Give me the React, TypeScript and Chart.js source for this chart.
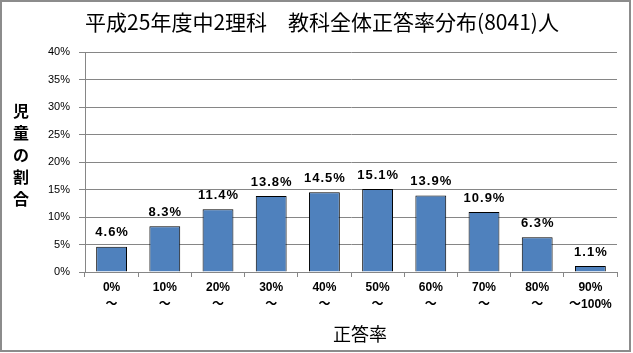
import React, { useEffect, useRef } from "react";
import { Chart, registerables } from "chart.js";

Chart.register(...registerables);

const TITLE = "平成25年度中2理科　教科全体正答率分布(8041)人";
const Y_TITLE_CHARS = ["児", "童", "の", "割", "合"];
const X_TITLE = "正答率";

const categories: string[][] = [
  ["0%", "～"],
  ["10%", "～"],
  ["20%", "～"],
  ["30%", "～"],
  ["40%", "～"],
  ["50%", "～"],
  ["60%", "～"],
  ["70%", "～"],
  ["80%", "～"],
  ["90%", "～100%"],
];
const values = [4.6, 8.3, 11.4, 13.8, 14.5, 15.1, 13.9, 10.9, 6.3, 1.1];
const yMin = 0;
const yMax = 40;
const yStep = 5;

const LATIN = '"Liberation Sans", "Noto Sans CJK JP", sans-serif';
const CJK = '"Noto Sans CJK JP", "Liberation Sans", sans-serif';

const decorPlugin = {
  id: "decor",
  afterDraw(chart: any) {
    const ctx = chart.ctx;
    ctx.save();
    // outer border
    ctx.strokeStyle = "#8c8c8c";
    ctx.lineWidth = 2;
    ctx.strokeRect(1, 1, 629, 350);
    // title
    ctx.fillStyle = "#000";
    ctx.textAlign = "center";
    ctx.textBaseline = "middle";
    ctx.font = `21px ${CJK}`;
    ctx.fillText(TITLE, 322, 22);
    // y title stacked
    ctx.font = `bold 16px ${CJK}`;
    Y_TITLE_CHARS.forEach((c, i) => ctx.fillText(c, 21, 111 + i * 22));
    // x title
    ctx.font = `18px ${CJK}`;
    ctx.fillText(X_TITLE, 360, 334);
    ctx.restore();
  },
  afterDatasetsDraw(chart: any) {
    const ctx = chart.ctx;
    const meta = chart.getDatasetMeta(0);
    ctx.save();
    ctx.fillStyle = "#000";
    ctx.textAlign = "center";
    ctx.textBaseline = "middle";
    ctx.font = `bold 13px ${LATIN}`;
    (ctx as any).letterSpacing = "1px";
    meta.data.forEach((el: any, i: number) => {
      ctx.fillText(values[i].toFixed(1) + "%", el.x + 0.5, el.y - 14);
    });
    ctx.restore();
  },
};

export default function App() {
  const ref = useRef<HTMLCanvasElement | null>(null);
  useEffect(() => {
    if (!ref.current) return;
    const chart = new Chart(ref.current, {
      type: "bar",
      data: {
        labels: categories,
        datasets: [
          {
            data: values,
            backgroundColor: "#4F81BD",
            borderColor: "#000000",
            borderWidth: 1,
            barPercentage: 0.58,
            categoryPercentage: 1,
          },
        ],
      },
      options: {
        responsive: false,
        animation: false,
        devicePixelRatio: 1,
        layout: { padding: { left: 0, top: 52, right: 16, bottom: 0 } },
        plugins: {
          legend: { display: false },
          tooltip: { enabled: false },
          title: { display: false },
        },
        scales: {
          x: {
            grid: {
              display: true,
              drawOnChartArea: false,
              drawTicks: true,
              tickLength: 5,
              color: "#868686",
              offset: true,
            },
            border: { color: "#868686" },
            ticks: {
              color: "#000",
              font: { family: LATIN, size: 12, weight: "bold", lineHeight: 1.35 },
              padding: 3,
              maxRotation: 0,
              autoSkip: false,
            },
            afterFit(scale: any) {
              scale.height = 81;
            },
          },
          y: {
            min: yMin,
            max: yMax,
            ticks: {
              stepSize: yStep,
              callback: (v: any) => v + "%",
              color: "#000",
              font: { family: LATIN, size: 11 },
              padding: 9,
            },
            grid: { color: "#868686", tickLength: 6 },
            border: { color: "#868686" },
            afterFit(scale: any) {
              scale.width = 85;
            },
          },
        },
      },
      plugins: [decorPlugin],
    });
    return () => chart.destroy();
  }, []);
  return (
    <div style={{ position: "fixed", left: 0, top: 0, width: 633, height: 353, background: "#fff" }}>
      <canvas ref={ref} width={633} height={353} style={{ display: "block" }} />
    </div>
  );
}
